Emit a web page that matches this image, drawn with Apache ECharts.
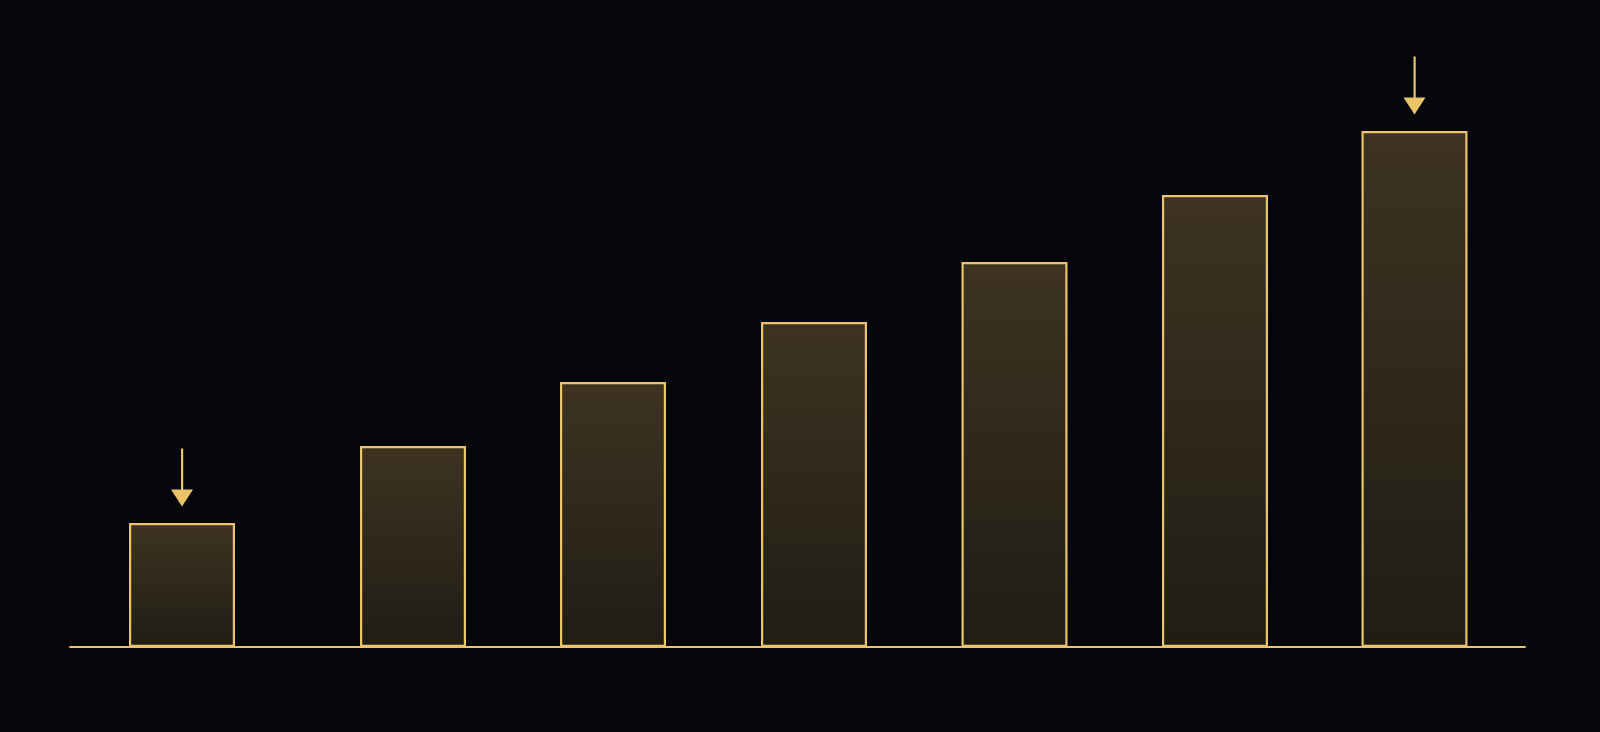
<!DOCTYPE html>
<html>
<head>
<meta charset="utf-8">
<script src="https://cdn.jsdelivr.net/npm/echarts@6/dist/echarts.min.js"></script>
<style>
  html, body { margin: 0; padding: 0; background: #05060a; }
  #main { width: 1600px; height: 732px; }
</style>
</head>
<body>
<div id="main"></div>
<script>
// bar positions along the x axis (first bar sits a little apart)
var positions = [1.12, 3.43, 5.43, 7.44, 9.445, 11.45, 13.445];
var values = [62, 100.5, 132.5, 162.5, 192.5, 226, 258];
// bars that get an arrow above them
var arrowIdx = [0, 6];

var gold = '#e9c468';

var chart = echarts.init(document.getElementById('main'));

var arrowPath = 'path://M10,0 L12.2,0 L12.2,41 L22,41 L11,58 L0,41 L10,41 Z';

var option = {
  backgroundColor: '#05060a',
  animation: false,
  grid: {
    left: 70,
    right: 75,
    top: 47,
    bottom: 85
  },
  xAxis: {
    type: 'value',
    min: 0,
    max: 14.55,
    axisLine: { show: true, lineStyle: { color: gold, width: 2 } },
    axisTick: { show: false },
    axisLabel: { show: false },
    splitLine: { show: false }
  },
  yAxis: {
    type: 'value',
    min: 0,
    max: 300,
    axisLine: { show: false },
    axisTick: { show: false },
    axisLabel: { show: false },
    splitLine: { show: false }
  },
  series: [{
    type: 'bar',
    barWidth: 106,
    data: positions.map(function (x, i) { return [x, values[i]]; }),
    itemStyle: {
      color: new echarts.graphic.LinearGradient(0, 0, 0, 1, [
        { offset: 0, color: '#3e3320' },
        { offset: 1, color: '#201d16' }
      ]),
      borderColor: gold,
      borderWidth: 2.2
    },
    markPoint: {
      symbol: arrowPath,
      symbolSize: [22, 58],
      symbolOffset: [0, -45.5],
      itemStyle: { color: gold },
      label: { show: false },
      data: arrowIdx.map(function (i) {
        return { coord: [positions[i], values[i]] };
      })
    }
  }]
};

chart.setOption(option);
</script>
</body>
</html>
